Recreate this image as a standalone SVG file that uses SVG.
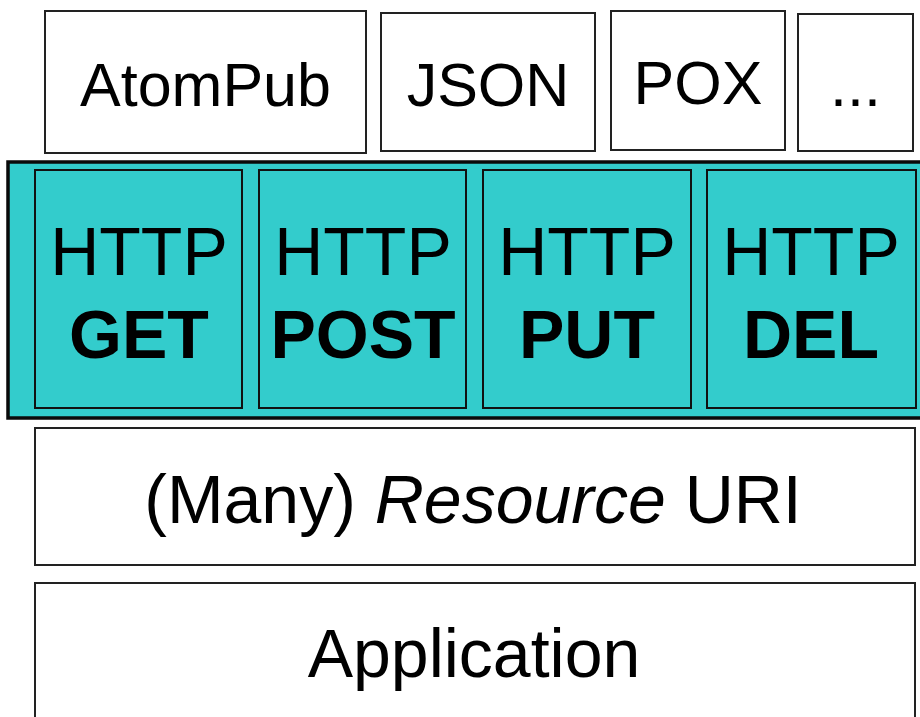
<svg xmlns="http://www.w3.org/2000/svg" width="920" height="717" viewBox="0 0 920 717">
<style>
.w{fill:#fff;stroke:#222;stroke-width:2}
.t{fill:#33cccc;stroke:#111;stroke-width:2}
.o{fill:#33cccc;stroke:#0a0a0a;stroke-width:3.5}
text{font-family:"Liberation Sans",Arial,sans-serif;fill:#000;text-anchor:middle}
.s{font-size:61px}
.h{font-size:68px}
.b{font-weight:bold}
</style>
<rect width="920" height="717" fill="#fff"/>
<g id="atompub"><rect class="w" x="45" y="11" width="321" height="142"/><text class="s" x="205.5" y="106">AtomPub</text></g>
<g id="json"><rect class="w" x="381" y="13" width="214" height="138"/><text class="s" x="488" y="106">JSON</text></g>
<g id="pox"><rect class="w" x="611" y="11" width="174" height="139"/><text class="s" x="698" y="104">POX</text></g>
<g id="more"><rect class="w" x="798" y="14" width="115" height="137"/><text class="s" x="855.5" y="106">...</text></g>
<g id="http-layer"><rect class="o" x="8" y="162" width="916" height="256"/></g>
<g id="get"><rect class="t" x="35" y="170" width="207" height="238"/><text class="h" x="139" y="275">HTTP</text><text class="h b" x="139" y="358">GET</text></g>
<g id="post"><rect class="t" x="259" y="170" width="207" height="238"/><text class="h" x="363" y="275">HTTP</text><text class="h b" x="363" y="358">POST</text></g>
<g id="put"><rect class="t" x="483" y="170" width="208" height="238"/><text class="h" x="587" y="275">HTTP</text><text class="h b" x="587" y="358">PUT</text></g>
<g id="del"><rect class="t" x="707" y="170" width="209" height="238"/><text class="h" x="811" y="275">HTTP</text><text class="h b" x="811" y="358">DEL</text></g>
<g id="resource-uri"><rect class="w" x="35" y="428" width="880" height="137"/><text class="h" x="473" y="523">(Many) <tspan font-style="italic">Resource</tspan> URI</text></g>
<g id="application"><rect class="w" x="35" y="583" width="880" height="150"/><text class="h" x="474" y="677">Application</text></g>
<g id="connectors"/>
</svg>
